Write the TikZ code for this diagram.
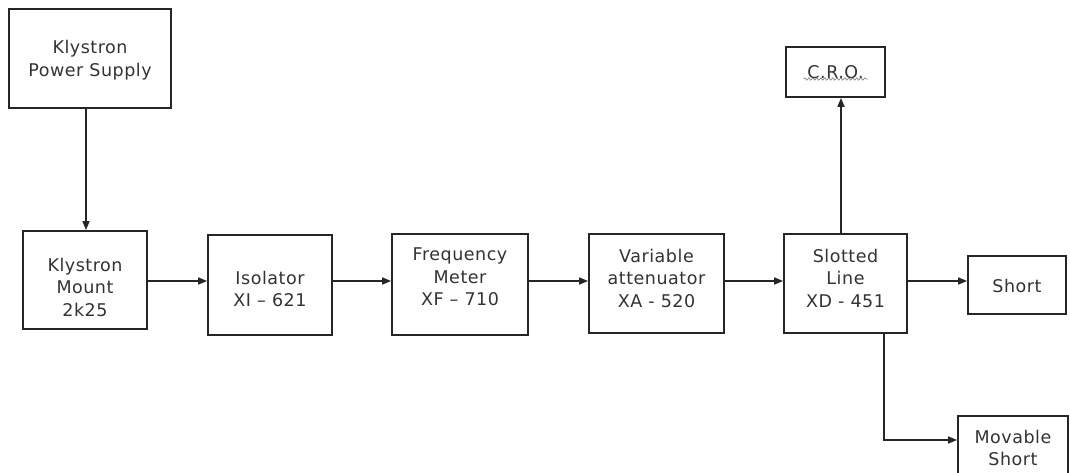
\documentclass[tikz,border=0pt]{standalone}
\usepackage{fontspec}
\setmainfont{DejaVu Sans}[LetterSpace=3]
\usetikzlibrary{arrows.meta,decorations.pathmorphing}
\begin{document}
\begin{tikzpicture}[x=1pt,y=-1pt,
  blk/.style={draw=black!85,line width=1.8pt,inner sep=0pt},
  txt/.style={align=center,inner sep=0pt,font=\fontsize{17.5}{22.5}\selectfont,text=black!80},
  conn/.style={draw=black!85,line width=1.6pt,-{Triangle[length=9pt,width=7pt]}}]
\useasboundingbox (0,0) rectangle (1070,473);
\fill[white] (0,0) rectangle (1070,473);
\node[blk,minimum width=162pt,minimum height=99pt] (kps) at (90,58.5) {};
\node[txt] (kpst) at (90,60) {Klystron\\Power Supply};
\node[blk,minimum width=124pt,minimum height=98pt] (km) at (85,280) {};
\node[txt] (kmt) at (85,287) {Klystron\\Mount\\2k25};
\node[blk,minimum width=124pt,minimum height=100pt] (iso) at (270,285) {};
\node[txt] (isot) at (270,289) {Isolator\\XI -- 621};
\node[blk,minimum width=136pt,minimum height=101pt] (fm) at (460,284.5) {};
\node[txt] (fmt) at (460,277) {Frequency\\Meter\\XF -- 710};
\node[blk,minimum width=135pt,minimum height=99pt] (va) at (656.5,283.5) {};
\node[txt] (vat) at (656.5,278) {Variable\\attenuator\\XA - 520};
\node[blk,minimum width=123pt,minimum height=99pt] (sl) at (845.5,283.5) {};
\node[txt] (slt) at (845.5,278) {Slotted\\Line\\XD - 451};
\node[blk,minimum width=99pt,minimum height=50pt] (cro) at (835.5,72) {};
\node[txt] (crot) at (835.5,72) {C.R.O.};
\node[blk,minimum width=98pt,minimum height=58pt] (short) at (1017,285) {};
\node[txt] (shortt) at (1017,286) {Short};
\node[blk,minimum width=110pt,minimum height=80pt] (ms) at (1013,456) {};
\node[txt] (mst) at (1013,448) {Movable\\Short};
\draw[gray,line width=0.6pt,decorate,decoration={snake,amplitude=1.2pt,segment length=4pt}]
  ([xshift=-32pt,yshift=-7pt]crot.center) -- ([xshift=32pt,yshift=-7pt]crot.center);
\coordinate (ay) at (0,281);
\coordinate (cx) at (841,0);
\coordinate (mx) at (884,0);
\coordinate (my) at (0,440);
\coordinate (kx) at (86,0);
\draw[conn] (kps.south -| kx) -- (km.north -| kx);
\draw[conn] (km.east |- ay) -- (iso.west |- ay);
\draw[conn] (iso.east |- ay) -- (fm.west |- ay);
\draw[conn] (fm.east |- ay) -- (va.west |- ay);
\draw[conn] (va.east |- ay) -- (sl.west |- ay);
\draw[conn] (sl.east |- ay) -- (short.west |- ay);
\draw[conn] (sl.north -| cx) -- (cro.south -| cx);
\draw[conn] (sl.south -| mx) -- (mx |- my) -- (ms.west |- my);
\end{tikzpicture}
\end{document}
